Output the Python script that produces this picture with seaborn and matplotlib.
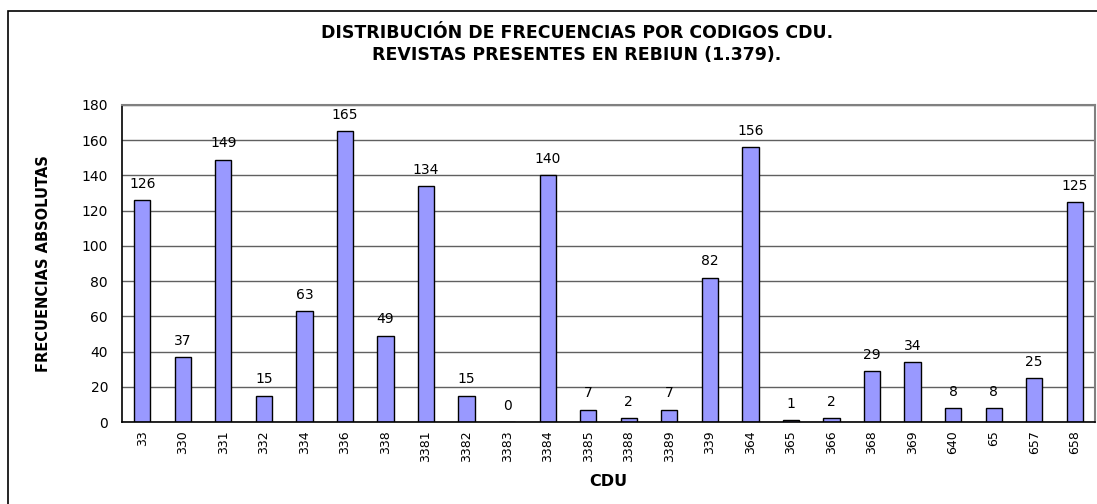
import numpy as np
import pandas as pd
import matplotlib
matplotlib.use("Agg")
import matplotlib.pyplot as plt
import matplotlib.patches as mpatches
import seaborn as sns

# ── data ──────────────────────────────────────────────
cdu_codes = ['33', '330', '331', '332', '334', '336', '338', '3381', '3382', '3383',
             '3384', '3385', '3388', '3389', '339', '364', '365', '366', '368', '369',
             '640', '65', '657', '658']
frecuencias = [126, 37, 149, 15, 63, 165, 49, 134, 15, 0,
               140, 7, 2, 7, 82, 156, 1, 2, 29, 34,
               8, 8, 25, 125]
y_ticks = [0, 20, 40, 60, 80, 100, 120, 140, 160, 180]

df = pd.DataFrame({'cdu': cdu_codes, 'freq': frecuencias})

# ── style ─────────────────────────────────────────────
sns.set_theme(style="white")
plt.rcParams['font.family'] = ['DejaVu Sans']
plt.rcParams['text.color'] = 'black'
plt.rcParams['axes.labelcolor'] = 'black'
plt.rcParams['xtick.color'] = 'black'
plt.rcParams['ytick.color'] = 'black'

W, H = 1097, 504
fig = plt.figure(figsize=(W / 100, H / 100), dpi=100)
ax = fig.add_axes([122 / W, 1 - 422 / H, (1095 - 122) / W, (422 - 105) / H])

sns.barplot(data=df, x='cdu', y='freq', order=cdu_codes, color='#9999FF',
            width=0.4, edgecolor='black', linewidth=1, saturation=1, ax=ax)

# value labels over the bars
for i, v in enumerate(frecuencias):
    ax.text(i, v + 7, str(v), ha='center', va='baseline', fontsize=10, color='black')

ax.set_xlim(-0.5, len(cdu_codes) - 0.5)
ax.set_ylim(0, 180)
ax.set_yticks(y_ticks)
ax.set_yticklabels([str(t) for t in y_ticks], fontsize=10)
ax.yaxis.grid(True, color='#606060', linewidth=1)
ax.set_axisbelow(True)

# category ticks sit between the bars
ax.set_xticks(np.arange(len(cdu_codes)))
ax.set_xticklabels(cdu_codes, rotation=90, fontsize=9, va='top', ha='center')
ax.tick_params(axis='x', which='major', length=0, pad=6)
ax.set_xticks(np.arange(len(cdu_codes) + 1) - 0.5, minor=True)
ax.tick_params(axis='x', which='minor', length=4, width=1, color='black', direction='out')
ax.tick_params(axis='y', length=5, width=1, color='black', direction='out', pad=5)

for s in ['left', 'bottom']:
    ax.spines[s].set_color('black')
    ax.spines[s].set_linewidth(1.2)
for s in ['top', 'right']:
    ax.spines[s].set_color('#808080')
    ax.spines[s].set_linewidth(1.5)

ax.set_xlabel('CDU', fontsize=11.5, fontweight='bold', va='center')
ax.xaxis.set_label_coords(0.5, -(482 - 422) / (422 - 105))
ax.set_ylabel('FRECUENCIAS ABSOLUTAS', fontsize=10.5, fontweight='bold', va='center')
ax.yaxis.set_label_coords(-(122 - 44) / (1095 - 122), 0.5)

fig.text(577 / W, 1 - 44 / H,
         'DISTRIBUCIÓN DE FRECUENCIAS POR CODIGOS CDU.\nREVISTAS PRESENTES EN REBIUN (1.379).',
         ha='center', va='center', fontsize=12.5, fontweight='bold', linespacing=1.3)

# outer chart frame
frame = mpatches.Rectangle((8 / W, -0.05), 1.2, 1 - 11 / H + 0.05,
                           transform=fig.transFigure, fill=False,
                           edgecolor='black', linewidth=1.2, clip_on=False)
fig.patches.append(frame)

fig.savefig('out.png', dpi=100)
